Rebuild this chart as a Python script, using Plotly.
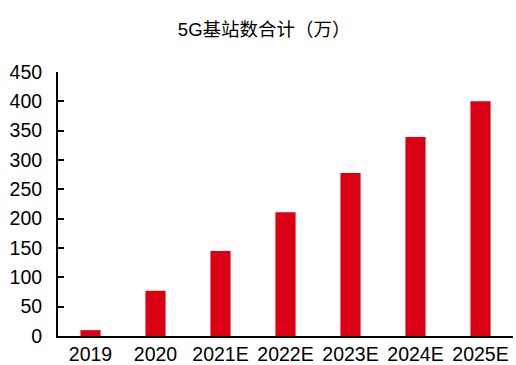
import plotly.graph_objects as go

categories = ["2019", "2020", "2021E", "2022E", "2023E", "2024E", "2025E"]
values = [10, 77, 145, 211, 278, 339, 400]
y_ticks = [0, 50, 100, 150, 200, 250, 300, 350, 400, 450]

fig = go.Figure(go.Bar(x=categories, y=values, marker_color="#DC0014", marker_line_width=0, width=0.31))

fig.update_layout(
    width=516, height=365,
    margin=dict(l=58, r=3, t=72, b=29, autoexpand=False),
    paper_bgcolor="white", plot_bgcolor="white",
    font=dict(family="Liberation Sans, Arial, Noto Sans CJK SC", color="black", size=18),
    title=dict(text="5G基站数合计（万）", x=0.512, xanchor="center", y=0.92, yanchor="middle",
               font=dict(family="Liberation Sans, Noto Sans CJK SC", size=18.5, color="black")),
    showlegend=False,
)
fig.update_xaxes(type="category", range=[-0.5, 6.5], showline=True, linecolor="black", linewidth=2,
                 ticks="", showgrid=False, tickfont=dict(size=19.5), ticklabelstandoff=0, automargin=False)
fig.update_yaxes(range=[0, 450], tickvals=y_ticks, showline=True, linecolor="black", linewidth=2,
                 ticks="inside", ticklen=6, tickwidth=2, tickcolor="black", showgrid=False,
                 zeroline=False, tickfont=dict(size=19.5), ticklabelstandoff=10, automargin=False)

fig.write_html("out.html", config={"displayModeBar": False},
               post_script="document.body.style.margin='0';document.body.style.overflow='hidden';")
